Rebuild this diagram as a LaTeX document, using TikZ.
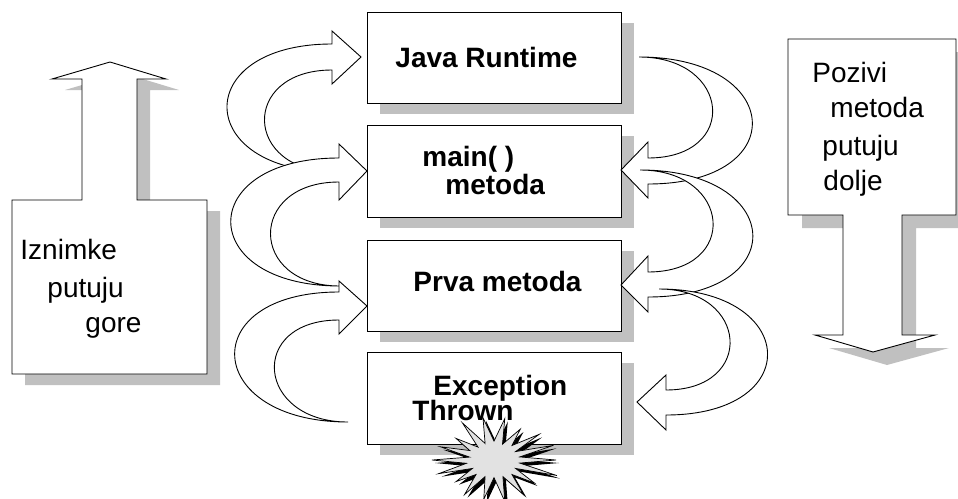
\documentclass[tikz,border=0pt]{standalone}
\usepackage{fontspec}
\setmainfont{Liberation Sans}
\usetikzlibrary{shadows,calc}
\definecolor{shadowgray}{RGB}{192,192,192}
\definecolor{burstgray}{RGB}{226,226,226}
\newcommand\burstpath{(0:62 and 42) \foreach \a/\r in {10/0.42, 20/1.08, 30/0.4, 40/0.85, 50/0.45, 60/0.95, 70/0.42, 80/1.0, 90/0.42, 100/0.95, 110/0.42, 120/0.95, 130/0.45, 140/0.8, 150/0.4, 160/0.95, 170/0.45, 180/1.0, 190/0.4, 200/0.92, 210/0.45, 220/0.8, 230/0.4, 240/1.02, 250/0.42, 260/1.02, 270/0.45, 280/1.0, 290/0.4, 300/0.85, 310/0.45, 320/0.95, 330/0.4, 340/1.02, 350/0.42} { -- (\a:{62*\r} and {42*\r}) } -- cycle}
\begin{document}
\begin{tikzpicture}[x=1pt,y=-1pt,line width=0.9pt,line join=miter,
  box/.style={draw, fill=white, minimum width=254pt, minimum height=91pt, inner sep=0pt,
    drop shadow={shadow xshift=13pt, shadow yshift=-11pt, fill=shadowgray, opacity=1}},
  carrow/.style={draw, fill=white},
  bigarrow/.style={draw, fill=white},
  txt/.style={anchor=base west, inner sep=0pt, font=\fontsize{28}{32}\selectfont},
  btxt/.style={txt, font=\fontsize{28}{32}\selectfont\bfseries}]
\useasboundingbox (0,0) rectangle (958,498);

% big left arrow (exceptions go up)
\fill[shadowgray, xshift=13pt, yshift=-11pt] (12,374) -- (12,200) -- (82,200) -- (82,79) -- (52,79) -- (110,62) -- (166,79) -- (137,79) -- (137,200) -- (207,200) -- (207,374) -- cycle;
\draw[bigarrow] (12,374) -- (12,200) -- (82,200) -- (82,79) -- (52,79) -- (110,62) -- (166,79) -- (137,79) -- (137,200) -- (207,200) -- (207,374) -- cycle;

% big right arrow (calls go down)
\fill[shadowgray, xshift=14pt, yshift=-13pt] (788,39) -- (956,39) -- (956,215) -- (902,215) -- (902,335) -- (935,335) -- (873,352) -- (815,335) -- (843,335) -- (843,215) -- (788,215) -- cycle;
\draw[bigarrow] (788,39) -- (956,39) -- (956,215) -- (902,215) -- (902,335) -- (935,335) -- (873,352) -- (815,335) -- (843,335) -- (843,215) -- (788,215) -- cycle;

% stack boxes
\node[box] (jr) at (494,57.5) {};
\node[box, minimum height=92pt] (mm) at (494,171) {};
\node[box] (pm) at (494,285.5) {};
\node[box, minimum height=92pt] (et) at (494,398) {};

% left curved arrows
\draw[carrow] (335,172) .. controls (193,172) and (190,44) .. (332,44) -- (332,31) -- (361,57) -- (332,84) -- (332,70) .. controls (240,70) and (243,172) .. (335,172) -- cycle;
\draw[carrow] (340,286) .. controls (195,286) and (194,158) .. (339,158) -- (339,144) -- (367,171) -- (339,200) -- (339,182) .. controls (247,182) and (248,286) .. (340,286) -- cycle;
\draw[carrow] (348,422) .. controls (203,422) and (194,292) .. (339,292) -- (339,281) -- (367,306) -- (339,334) -- (339,320) .. controls (247,320) and (256,422) .. (348,422) -- cycle;

% right curved arrows
\draw[carrow] (639,57) .. controls (731,57) and (740,158) .. (648,158) -- (648,142) -- (621,170) -- (648,198) -- (648,184) .. controls (793,184) and (784,57) .. (639,57) -- cycle;
\draw[carrow] (640,170) .. controls (732,170) and (740,272) .. (648,272) -- (648,256) -- (621,285) -- (648,312) -- (648,297) .. controls (793,297) and (785,170) .. (640,170) -- cycle;
\draw[carrow] (659,289) .. controls (749,289) and (756,390) .. (666,390) -- (666,375) -- (637,402) -- (666,430) -- (666,415) .. controls (806,415) and (799,289) .. (659,289) -- cycle;

% starburst
\fill[black, shift={(497,463)}] \burstpath;
\draw[fill=burstgray, line width=0.7pt, shift={(494,460)}] \burstpath;

% texts
\node[btxt] (t1) at (395,67) {Java Runtime};
\node[btxt] (t2) at (422,166) {main( )};
\node[btxt] (t3) at (445,194) {metoda};
\node[btxt] (t4) at (413,291) {Prva metoda};
\node[btxt] (t5) at (433,395) {Exception};
\node[btxt] (t6) at (412,420) {Thrown};
\node[txt] (l1) at (20,259) {Iznimke};
\node[txt] (l2) at (47,297) {putuju};
\node[txt] (l3) at (85,332) {gore};
\node[txt] (r1) at (812,82) {Pozivi};
\node[txt] (r2) at (830,117) {metoda};
\node[txt] (r3) at (822,155) {putuju};
\node[txt] (r4) at (823,190) {dolje};
\end{tikzpicture}
\end{document}
